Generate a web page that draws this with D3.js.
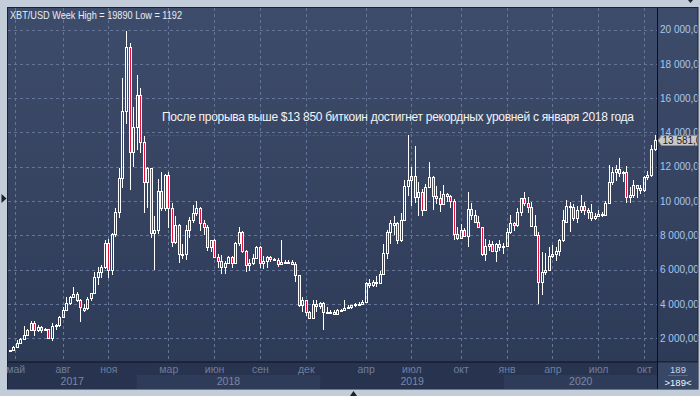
<!DOCTYPE html>
<html>
<head>
<meta charset="utf-8">
<script src="https://cdn.jsdelivr.net/npm/d3@7"></script>
<style>
  body { margin: 0; background: #c3ccd9; }
  svg { display: block; font-family: "Liberation Sans", Arial, sans-serif; }
</style>
</head>
<body>
<svg id="chart" width="700" height="396"></svg>
<script>
// weekly XBT/USD candles, one per week, first week starts Monday 24 Apr 2017
var firstWeek = "2017-04-24";

var weekOpen = [
  // 2017
  1250,1320,1510,1740,1950,2190,2450,2870,2500,2680,2500,2540,2030,2700,2760,3230,3650,4030,4420,4580,4240,3650,3750,4330,4620,5590,5880,6170,7530,5980,8060,9380,11320,15240,18960,12870,
  // 2018
  14300,16180,13460,11130,11900,8120,8300,10600,9600,11500,9570,7630,8600,6910,6900,8310,8890,9320,9570,8700,8500,7300,7700,6720,6500,6170,6400,6750,6360,7570,8210,7100,6270,6400,6700,7330,6360,6500,6720,6600,6580,6300,6450,6400,6420,6350,5690,3940,4200,3500,3200,4000,3900,
  // 2019
  4050,3550,3520,3540,3410,3660,3670,3750,3800,3920,4020,4000,4100,5200,5100,5300,5200,5770,6980,8200,8600,8720,7700,8900,10900,11200,11450,10250,10550,9500,10800,11400,10300,10150,9800,10400,10300,10000,8050,7850,8300,7950,9550,9200,8800,8500,6900,7400,7500,7100,7500,7300,
  // 2020
  7350,8200,8700,8600,9350,10150,9900,9650,8550,8000,5300,5850,5950,6800,6900,7100,7700,8800,9700,9650,9000,9500,9700,9480,9350,9000,9100,9250,9180,9900,11100,11700,11850,11650,11700,10250,10330,10930,10770,10660,11380,11500,13020
];
var weekHigh = [
  1340,1560,1890,2000,2700,2550,2980,2980,2760,2700,2620,2560,2900,2850,3300,3800,4420,4480,5000,4700,4300,4000,4400,4650,5850,6170,6270,7730,7800,8120,9570,11900,17170,19890,19200,15500,
  17350,16570,13800,12000,11950,9100,11260,11700,11600,11700,9900,9100,8650,7500,8600,9080,9770,10020,9650,8880,8600,7750,7800,6900,6850,6500,6800,6780,7600,8470,8250,7150,6600,6900,7400,7400,6790,6800,6800,6700,6700,7700,6550,6550,6550,6460,5700,4400,4250,3600,4200,4250,4100,
  4100,3800,3650,3650,3700,3720,4200,3950,3950,4050,4100,4200,5300,5450,5400,5650,5900,7500,8300,8900,9100,8800,9300,11200,13850,12000,13200,11100,10700,11000,12300,11450,10900,10600,10950,10450,10350,10100,8500,8650,8400,10500,9900,9500,9100,8500,7800,7700,7650,7550,7700,7550,
  8450,9200,8750,9600,10200,10500,10250,9950,9200,8200,7040,6950,7300,7450,7300,7800,9450,10050,9950,9850,9700,10350,9950,9600,9800,9300,9450,9350,10000,12100,12000,12100,12500,11750,12050,10800,11200,10950,10950,11450,11750,13250,13850
];
var weekLow = [
  1192,1300,1480,1700,1900,2100,2450,2100,2360,2300,2470,1950,1840,2500,2650,3200,3600,3950,4330,4100,2960,3550,3650,4150,4550,5100,5500,6050,5500,5700,7920,9000,10760,14500,10640,12000,
  13000,12780,9280,9600,7820,6000,8100,9400,9400,8400,7300,7500,6400,6600,6560,7840,8700,9100,8250,8020,7100,7050,6650,6100,5740,5740,6300,6100,6300,7400,6950,5850,5900,6250,6650,6100,6030,6100,6450,6500,6150,6250,6400,6300,6300,5300,3800,3550,3300,3150,3200,3550,3700,
  2500,3500,3450,3350,3400,3550,3650,3700,3700,3800,3900,3950,4100,4900,5000,5000,5150,5700,6600,7500,8000,7500,7600,8900,10300,9700,9900,9100,9100,9400,10800,9500,9800,9350,9750,9950,9600,7700,7750,7800,7900,7300,8900,8700,8400,6800,6500,7100,7000,6450,7100,6900,
  7350,8100,8250,8500,9100,9700,9300,8500,8000,3990,4500,5700,5900,6700,6500,6800,7600,8700,8200,8850,8700,9300,9200,8950,8850,8900,9050,9050,9150,9900,10950,11150,11400,11100,9900,9900,10200,10150,10400,10550,11200,11400,12900
];
var weekClose = [
  1320,1510,1740,1950,2190,2450,2870,2500,2680,2500,2540,2030,2700,2760,3230,3650,4030,4420,4580,4240,3800,3750,4270,4620,5590,5880,6170,7530,5980,8060,9380,11320,15240,18960,12870,14300,
  16180,13460,11130,11900,8120,8300,10600,9600,11500,9570,7630,8600,6910,6900,8310,8890,9320,9570,8700,8500,7300,7700,6720,6500,6170,6400,6750,6360,7570,8210,7100,6270,6400,6700,7330,6360,6500,6720,6600,6580,6300,6450,6400,6420,6350,5690,3940,4200,3500,3200,4000,3900,4050,
  3550,3530,3540,3410,3660,3670,3750,3800,3920,4020,4000,4100,5200,5100,5300,5200,5770,6980,8200,8700,8720,7700,8900,10900,11200,11450,10250,10550,9500,10800,11400,10300,10150,9800,10400,10300,10000,8050,7850,8300,7950,9550,9200,8800,8500,6900,7400,7500,7100,7500,7300,7350,
  8200,8700,8600,9350,10150,9900,9650,8550,8000,5300,5850,5950,6800,6900,7100,7700,8900,9700,9650,9000,9500,9700,9480,9350,9000,9100,9250,9180,9900,11100,11700,11850,11650,11700,10250,10330,10930,10770,10660,11380,11500,13020,13581
];

var priceTicks = [2000, 4000, 6000, 8000, 10000, 12000, 14000, 16000, 18000, 20000];
var monthTicks = ["2017-05-05","2017-08-07","2017-11-06","2018-03-05","2018-06-04","2018-09-03","2018-12-03",
                  "2019-04-01","2019-07-01","2019-10-07","2020-01-06","2020-04-06","2020-07-06","2020-10-05"];
var monthLabels = ["май","авг","ноя","мар","июн","сен","дек","апр","июл","окт","янв","апр","июл","окт"];
var yearLabels = ["2017", "2018", "2019", "2020"];
var yearStarts = ["2017-01-01", "2018-01-01", "2019-01-01", "2020-01-01", "2021-01-01"];

var titleText = "XBT/USD Week High = 19890 Low = 1192";
var noteText = "После прорыва выше $13 850 биткоин достигнет рекордных уровней с января 2018 года";
var levelPrice = 13850;
var levelFrom = "2018-01-25";
var lastPrice = 13581;
var barCount = "189";

var svg = d3.select("#chart");

var plotLeft = 8, plotRight = 657.5, plotTop = 8, plotBottom = 362;

var x = d3.scaleUtc()
    .domain([new Date("2017-12-11"), new Date("2020-10-26")])
    .range([126, 654.5]);
var y = d3.scaleLinear()
    .domain([2000, 20000])
    .range([338.2, 29.5]);

var start = new Date(firstWeek);
var candles = weekOpen.map(function (o, i) {
    return {
        date: d3.utcMonday.offset(start, i),
        open: o, high: weekHigh[i], low: weekLow[i], close: weekClose[i]
    };
});

var defs = svg.append("defs");
var grad = defs.append("linearGradient").attr("id", "bg")
    .attr("x1", 0).attr("y1", 0).attr("x2", 0).attr("y2", 1);
grad.append("stop").attr("offset", "0%").attr("stop-color", "#3e4c6b");
grad.append("stop").attr("offset", "100%").attr("stop-color", "#2d3a56");
defs.append("clipPath").attr("id", "plotClip").append("rect")
    .attr("x", plotLeft).attr("y", plotTop)
    .attr("width", plotRight - plotLeft).attr("height", plotBottom - plotTop);
defs.append("clipPath").attr("id", "sideClip").append("rect")
    .attr("x", 658).attr("y", plotTop).attr("width", 39.5).attr("height", 381);
defs.append("clipPath").attr("id", "bottomClip").append("rect")
    .attr("x", plotLeft).attr("y", plotBottom).attr("width", plotRight - plotLeft).attr("height", 27);

// outer panel
svg.append("rect")
    .attr("x", 7.5).attr("y", 7.5).attr("width", 690.5).attr("height", 381.5)
    .attr("fill", "url(#bg)").attr("stroke", "#1c2333");

// bottom time axis panel
svg.append("rect")
    .attr("x", plotLeft).attr("y", plotBottom).attr("width", plotRight - plotLeft).attr("height", 27)
    .attr("fill", "#28344f");

// alternate year bands
var bottom = svg.append("g").attr("clip-path", "url(#bottomClip)");
yearLabels.forEach(function (yr, i) {
    var x0 = Math.max(plotLeft, x(new Date(yearStarts[i])));
    var x1 = Math.min(plotRight, x(new Date(yearStarts[i + 1])));
    if (i % 2 == 1) {
        bottom.append("rect")
            .attr("x", x0).attr("y", 375).attr("width", x1 - x0).attr("height", 14)
            .attr("fill", "#2f3c59");
    }
    bottom.append("text")
        .attr("x", (x0 + x1) / 2).attr("y", 384.5)
        .attr("text-anchor", "middle")
        .style("font-size", "10.5px")
        .attr("fill", "#7b88a4")
        .text(yr);
});

// grid
var grid = svg.append("g").attr("clip-path", "url(#plotClip)");
grid.selectAll(".hgrid").data(priceTicks).enter().append("line")
    .attr("x1", plotLeft).attr("x2", plotRight)
    .attr("y1", function (d) { return Math.round(y(d)) + 0.5; })
    .attr("y2", function (d) { return Math.round(y(d)) + 0.5; })
    .attr("stroke", "#65759a").attr("stroke-dasharray", "3,3");
grid.selectAll(".vgrid").data(monthTicks).enter().append("line")
    .attr("x1", function (d) { return Math.round(x(new Date(d))) + 0.5; })
    .attr("x2", function (d) { return Math.round(x(new Date(d))) + 0.5; })
    .attr("y1", plotTop).attr("y2", plotBottom)
    .attr("stroke", "#65759a").attr("stroke-dasharray", "3,3");

// resistance level
grid.append("line")
    .attr("x1", x(new Date(levelFrom))).attr("x2", plotRight)
    .attr("y1", Math.round(y(levelPrice)) + 0.5).attr("y2", Math.round(y(levelPrice)) + 0.5)
    .attr("stroke", "#c8283e").attr("stroke-dasharray", "2,2");

svg.append("text")
    .attr("x", 162).attr("y", 121)
    .attr("textLength", 472).attr("lengthAdjust", "spacing")
    .style("font-size", "12px")
    .attr("fill", "#f2f4f8")
    .text(noteText);

// candles
var plot = svg.append("g").attr("clip-path", "url(#plotClip)")
    .attr("shape-rendering", "crispEdges");
var c = plot.selectAll(".candle").data(candles).enter().append("g");
c.each(function (d) {
    var g = d3.select(this);
    var cx = Math.round(x(d.date));
    var top = Math.round(y(Math.max(d.open, d.close)));
    var bot = Math.round(y(Math.min(d.open, d.close)));
    if (bot - top < 1) bot = top + 1;
    g.append("line")
        .attr("x1", cx + 0.5).attr("x2", cx + 0.5)
        .attr("y1", y(d.high)).attr("y2", top)
        .attr("stroke", "#ffffff");
    g.append("line")
        .attr("x1", cx + 0.5).attr("x2", cx + 0.5)
        .attr("y1", bot).attr("y2", y(d.low))
        .attr("stroke", "#ffffff");
    g.append("rect")
        .attr("x", cx - 0.5).attr("y", top + 0.5)
        .attr("width", 2).attr("height", bot - top)
        .attr("fill", d.close < d.open ? "#e3133c" : "none")
        .attr("stroke", "#ffffff");
});

// title
svg.append("text")
    .attr("x", 10).attr("y", 18.5)
    .attr("textLength", 172).attr("lengthAdjust", "spacingAndGlyphs")
    .style("font-size", "11px")
    .attr("fill", "#e8edf5")
    .text(titleText);

// time axis labels
var xAxis = d3.axisBottom(x)
    .tickValues(monthTicks.map(function (d) { return new Date(d); }))
    .tickFormat(function (d, i) { return monthLabels[i]; })
    .tickSize(0)
    .tickPadding(4);
var xg = svg.append("g")
    .attr("transform", "translate(0," + plotBottom + ")")
    .call(xAxis);
xg.select(".domain").remove();
xg.selectAll("text")
    .style("font-size", "10.5px")
    .style("font-family", "'Liberation Sans', Arial, sans-serif")
    .attr("fill", "#6e7d9d");

// price axis
var ru = d3.formatLocale({ decimal: ",", thousands: " ", grouping: [3], currency: ["", ""] });
var priceFmt = ru.format(",.2f");
var side = svg.append("g").attr("clip-path", "url(#sideClip)");
var yAxis = d3.axisRight(y)
    .tickValues(priceTicks)
    .tickFormat(priceFmt)
    .tickSize(0)
    .tickPadding(2.5);
var yg = side.append("g")
    .attr("transform", "translate(" + plotRight + ",0)")
    .call(yAxis);
yg.select(".domain").remove();
yg.selectAll("text")
    .style("font-size", "10px")
    .style("font-family", "'Liberation Sans', Arial, sans-serif")
    .attr("fill", "#a9c7ee");

// last price tag
var ly = Math.round(y(lastPrice)) + 0.5;
side.append("path")
    .attr("d", "M" + (plotRight + 0.5) + "," + ly + "L" + (plotRight + 4) + "," + (ly - 5) +
               "L699," + (ly - 5) + "L699," + (ly + 5) + "L" + (plotRight + 4) + "," + (ly + 5) + "Z")
    .attr("fill", "#c9c9c9").attr("stroke", "#8d8d8d");
side.append("text")
    .attr("x", 662.5).attr("y", ly + 3.5)
    .style("font-size", "10px")
    .attr("fill", "#1d1d1d")
    .text(priceFmt(lastPrice));

// frame lines
svg.append("line")
    .attr("x1", plotRight).attr("x2", plotRight).attr("y1", plotTop).attr("y2", 389)
    .attr("stroke", "#0d1018");
svg.append("line")
    .attr("x1", plotLeft).attr("x2", 698).attr("y1", plotBottom).attr("y2", plotBottom)
    .attr("stroke", "#0d1018");

// bar counter box
svg.append("rect")
    .attr("x", 658).attr("y", 362.5).attr("width", 40).attr("height", 26.5)
    .attr("fill", "#394766");
svg.append("text")
    .attr("x", 678).attr("y", 372.5).attr("text-anchor", "middle")
    .style("font-size", "9.5px").attr("fill", "#c8d2e6")
    .text(barCount);
svg.append("line")
    .attr("x1", 668).attr("x2", 688).attr("y1", 375.5).attr("y2", 375.5)
    .attr("stroke", "#5a6888");
svg.append("text")
    .attr("x", 678).attr("y", 385.5).attr("text-anchor", "middle")
    .style("font-size", "9.5px").attr("fill", "#f4f6fa")
    .text(">" + barCount + "<");

// small window markers
svg.append("path").attr("d", "M1.5,194 L6.5,198.5 L1.5,203 Z").attr("fill", "#1b2130");
svg.append("path").attr("d", "M350,396 L353.5,391 L357,396 Z").attr("fill", "#1b2130");
svg.append("path").attr("d", "M688,0 L693,0 L690.5,3 Z").attr("fill", "#1b2130");
</script>
</body>
</html>
